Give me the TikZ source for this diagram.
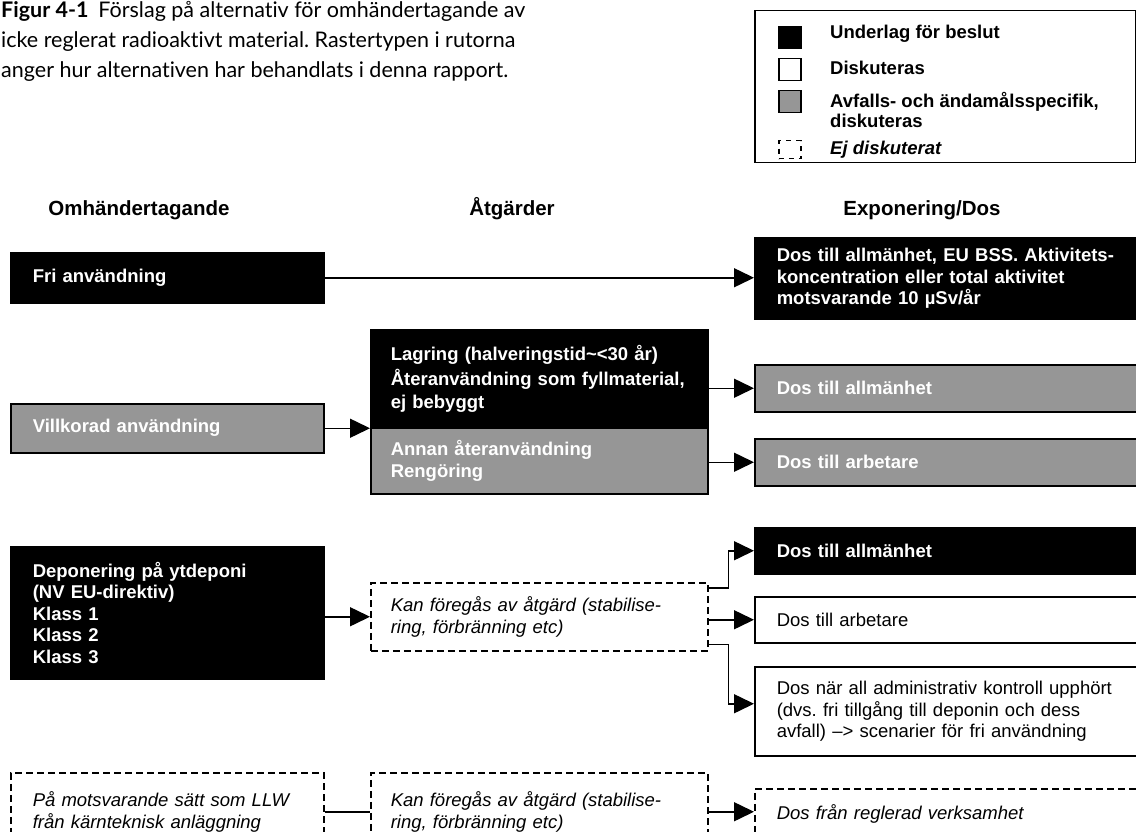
\documentclass[tikz,border=0pt]{standalone}
\usepackage{fontspec}
\setmainfont{Liberation Sans}
\newfontfamily\titlefont[Ligatures={NoCommon}]{Lato}
\usepackage{xcolor}
\usetikzlibrary{positioning,arrows.meta}
\definecolor{boxgray}{RGB}{150,150,150}
\newcommand\bxfont{\fontsize{18.5}{21.5}\selectfont}
\frenchspacing

\begin{document}
\begin{tikzpicture}[x=1pt, y=-1pt,
    every node/.style={align=left, inner ysep=0pt, inner xsep=22pt, font=\bxfont},
    box/.style={draw, line width=1.5pt, anchor=north west},
    colA/.style={box, text width=269pt, minimum width=313pt},
    colB/.style={box, text width=297pt, minimum width=337pt, inner xsep=20pt},
    colC/.style={box, text width=380pt, minimum width=424pt},
    blk/.style={fill=black, draw=black, text=white, font=\bxfont\bfseries},
    gry/.style={fill=boxgray, draw=black, text=white, font=\bxfont\bfseries},
    wht/.style={fill=white, draw=black},
    dsh/.style={draw=black, dash pattern=on 7pt off 4pt, font=\bxfont\itshape},
    head/.style={anchor=base, font=\fontsize{20.5}{24}\selectfont\bfseries, inner xsep=0pt},
    keybox/.style={draw, line width=1.5pt, anchor=north west, minimum width=22pt, minimum height=22pt, inner sep=0pt},
    keytext/.style={anchor=west, inner xsep=0pt, font=\bxfont\bfseries},
    conn/.style={draw, line width=1.5pt},
    arr/.style={conn, -{Triangle[length=20pt,width=19pt]}}
]
\useasboundingbox (0,0) rectangle (1136,832);
\clip (0,0) rectangle (1136,832);

% caption
\node[anchor=north west, inner xsep=0pt, font=\titlefont\fontsize{21.5}{30}\selectfont] (title) at (1,1)
    {\textbf{Figur 4-1}\hspace{10pt}Förslag på alternativ för omhändertagande av\\
     icke reglerat radioaktivt material. Rastertypen i rutorna\\
     anger hur alternativen har behandlats i denna rapport.};

% legend
\node[box, minimum width=381pt, minimum height=152pt] (legend) at (754,10) {};
\node[keybox, fill=black] (k1) at (778,26) {};
\node[keybox, fill=white] (k2) at (778,58) {};
\node[keybox, fill=boxgray] (k3) at (778,90) {};
\node[keybox, minimum height=18pt, dash pattern=on 5pt off 5pt] (k4) at (778,140) {};
\node[keytext] at (830,34) {Underlag för beslut};
\node[keytext] at (830,68) {Diskuteras};
\node[keytext, font=\fontsize{18.5}{20}\selectfont\bfseries] at (830,110) {Avfalls- och ändamålsspecifik,\\diskuteras};
\node[keytext, font=\bxfont\bfseries\itshape] at (830,150) {Ej diskuterat};

% column heads
\node[head] (h1) at (139,215) {Omhändertagande};
\node[head] (h2) at (512,215) {Åtgärder};
\node[head] (h3) at (922,215) {Exponering/Dos};

% Omhändertagande
\node[colA, blk, minimum height=50pt] (fri) at (10,252) {Fri användning};
\node[colA, gry, minimum height=49pt] (vill) at (10,403) {Villkorad användning};
\node[colA, blk, minimum height=132pt] (depo) at (10,546)
    {Deponering på ytdeponi\\(NV EU-direktiv)\\Klass 1\\Klass 2\\Klass 3};
\node[colA, dsh, minimum height=78pt] (llw) at (10,772)
    {På motsvarande sätt som LLW\\från kärnteknisk anläggning};

% Åtgärder
\node[colB, blk, minimum height=98pt] (lagr) at (370,329)
    {Lagring (halveringstid\textasciitilde<30 år)\\[4pt]Återanvändning som fyllmaterial,\\[1pt]ej bebyggt};
\node[colB, gry, minimum height=66pt] (annan) at (370,427) {Annan återanvändning\\Rengöring};
\node[colB, dsh, minimum height=68pt] (kan1) at (370,582)
    {Kan föregås av åtgärd (stabilise-\\ring, förbränning etc)};
\node[colB, dsh, minimum height=78pt] (kan2) at (370,772)
    {Kan föregås av åtgärd (stabilise-\\ring, förbränning etc)};

% Exponering/Dos
\node[colC, blk, minimum height=81pt] (dos1) at (754,237)
    {Dos till allmänhet, EU BSS. Aktivitets-\\koncentration eller total aktivitet\\motsvarande 10 µSv/år};
\node[colC, gry, minimum height=47pt] (dos2) at (754,364) {Dos till allmänhet};
\node[colC, gry, minimum height=47pt] (dos3) at (754,438) {Dos till arbetare};
\node[colC, blk, minimum height=46pt] (dos4) at (754,527) {Dos till allmänhet};
\node[colC, wht, minimum height=46pt] (dos5) at (754,596) {Dos till arbetare};
\node[colC, wht, minimum height=89pt] (dos6) at (754,666)
    {Dos när all administrativ kontroll upphört\\(dvs. fri tillgång till deponin och dess\\avfall) –> scenarier för fri användning};
\node[colC, dsh, minimum height=50pt] (dos7) at (754,788) {Dos från reglerad verksamhet};

% connectors
\draw[arr] (fri.east) -- (fri.east -| dos1.west);
\draw[arr] (vill.east) -- (vill.east -| lagr.west);
\draw[arr] (lagr.east |- dos2.west) -- (dos2.west);
\draw[arr] (annan.east |- dos3.west) -- (dos3.west);
\draw[arr] (depo.east |- kan1.west) -- (kan1.west);
\draw[arr] ([yshift=-6pt]kan1.north east) -- ++(20,0) |- (dos4.west);
\draw[arr] (kan1.east |- dos5.west) -- (dos5.west);
\draw[arr] ([yshift=7pt]kan1.south east) -- ++(20,0) |- ([yshift=7.5pt]dos6.west);
\draw[conn] (llw.east) -- (kan2.west);
\draw[arr] (kan2.east) -- (kan2.east -| dos7.west);
\end{tikzpicture}
\end{document}
